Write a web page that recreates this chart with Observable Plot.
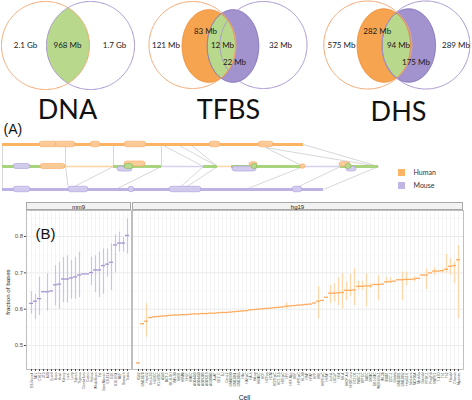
<!DOCTYPE html>
<html><head><meta charset="utf-8">
<script src="https://cdn.jsdelivr.net/npm/d3@7"></script>
<script src="https://cdn.jsdelivr.net/npm/@observablehq/plot@0.6"></script>
<style>
html,body{margin:0;padding:0;background:#fff;}
#fig{position:relative;width:472px;height:400px;overflow:hidden;font-family:"Liberation Sans",Arial,sans-serif;}
.strip{position:absolute;box-sizing:border-box;background:#f2f2f2;border:0.8px solid #a8a8a8;font-size:6px;color:#1a1a1a;text-align:center;line-height:8px;}
.lab{position:absolute;white-space:nowrap;color:#1a1a1a;}
</style>
</head><body>
<div id="fig"></div>
<script>
// ---------------- DATA ----------------
const vennSets = ["DNA", "TFBS", "DHS"];
const humanOnly = ["2.1 Gb", "121 Mb", "575 Mb"];
const bothShared = ["968 Mb", "12 Mb", "94 Mb"];
const mouseOnly = ["1.7 Gb", "32 Mb", "289 Mb"];
const humanFunctional = [null, "83 Mb", "282 Mb"];
const mouseFunctional = [null, "22 Mb", "175 Mb"];
const species = ["Human", "Mouse"];

const mm9Cells = ["ES-Bruce4","MEL","CH12","3T3","A20","B-cell","Brain","Heart","Kidney","Liver","Lung","Spleen","Thymus","Cerebellum","Cortex","Retina","WholeBrain","Fat","BoneMarrow","ES-E14","G1E","G1E-ER4","MEF","Stomach","Testis"];
const mm9Fraction = [0.616,0.622,0.629,0.648,0.648,0.650,0.667,0.669,0.683,0.683,0.686,0.689,0.694,0.697,0.697,0.701,0.708,0.708,0.720,0.724,0.729,0.777,0.782,0.782,0.803];
const mm9BarIdx = [0,1,2,4,6,7,8,9,10,11,12,15,16,17,18,19,20,21,22,23,24];
const mm9BarLo = [0.586,0.571,0.583,0.595,0.609,0.600,0.618,0.617,0.628,0.628,0.632,0.665,0.646,0.632,0.641,0.688,0.651,0.700,0.757,0.757,0.752];
const mm9BarHi = [0.648,0.641,0.688,0.697,0.720,0.729,0.743,0.747,0.734,0.743,0.757,0.743,0.747,0.757,0.766,0.766,0.780,0.805,0.812,0.798,0.849];

const hg19Cells = ["K562","GM12878","HepG2","HeLa-S3","HUVEC","H1-hESC","A549","MCF-7","SK-N-SH","IMR-90","NHEK","HSMM","NHLF","HMEC","AG04449","AG04450","AG09309","AG09319","AG10803","AoAF","BE2_C","BJ","Caco-2","GM06990","GM12864","GM12865","HAc","HAEpiC","HA-h","HA-sp","HBMEC","HCF","HCFaa","HCM","HCPEpiC","HCT-116","HEEpiC","HFF","HFF-Myc","HGF","HIPEpiC","HL-60","HMF","HPAF","HPF","HRE","HRPEpiC","HVMF","Jurkat","LNCaP","NB4","NH-A","NHDF-Ad","NHDF-neo","NT2-D1","PANC-1","RPTEC","SAEC","SKMC","SK-N-MC","WERI-Rb-1","WI-38","8988T","ECC-1","Gliobla","GM12891","GM12892","HepG2-E","Ishikawa","MCF10A","Medullo","Osteobl","PFSK-1","ProgFib","RWPE1","T-47D","Th1","Th2","Fibrobl","Chorion","Myometr"];
const hg19Fraction = [0.452,0.560,0.567,0.577,0.579,0.580,0.581,0.582,0.583,0.584,0.584,0.585,0.585,0.586,0.587,0.587,0.588,0.588,0.589,0.589,0.590,0.591,0.591,0.592,0.593,0.594,0.595,0.596,0.598,0.599,0.600,0.601,0.602,0.603,0.604,0.605,0.606,0.608,0.609,0.610,0.611,0.612,0.613,0.614,0.617,0.622,0.624,0.633,0.644,0.644,0.645,0.646,0.652,0.652,0.653,0.663,0.663,0.664,0.664,0.668,0.668,0.669,0.675,0.676,0.677,0.681,0.681,0.682,0.682,0.683,0.685,0.694,0.694,0.700,0.705,0.705,0.706,0.710,0.718,0.720,0.736];
const hg19BarIdx = [2,37,45,48,49,50,51,52,53,54,55,56,57,58,60,62,63,66,67,69,72,74,76,77,78,79,80];
const hg19BarLo = [0.523,0.600,0.574,0.615,0.620,0.610,0.601,0.624,0.635,0.610,0.652,0.652,0.606,0.657,0.624,0.670,0.670,0.624,0.665,0.675,0.654,0.693,0.700,0.699,0.693,0.670,0.574];
const hg19BarHi = [0.615,0.617,0.663,0.665,0.670,0.686,0.697,0.674,0.696,0.711,0.677,0.677,0.697,0.670,0.693,0.687,0.686,0.702,0.702,0.690,0.711,0.714,0.710,0.751,0.739,0.730,0.775];
const yTicks = [0.5, 0.6, 0.7, 0.8];
const yMinor = [0.45, 0.55, 0.65, 0.75, 0.85];

// ---------------- LAYOUT (drawing geometry, not data) ----------------
const C = {
  orangeLine:"#f5a873", purpleLine:"#a996cf",
  orangeFill:"#f7a450", purpleFill:"#a293cf", green:"#b8d98c",
  orangeEdge:"#ec8a33", purpleEdge:"#7e6cb5"
};
const vennLayout = [
  {o:[45,45,44,44], p:[90,45,44,44], oe:null, pe:null, title:[67,118],
   h:[25,45], s:[67,45], m:[114,45]},
  {o:[192,44.5,43.5,43.5], p:[263,44.5,43.5,43.5], oe:[208.3,45.5,26.7,36.3], pe:[232.5,45.5,25.8,36.3], title:[228,118],
   h:[165.5,45], s:[222,45], m:[280,45], hf:[205,31], mf:[234,62]},
  {o:[367.3,44.5,44,44], p:[425.3,44.5,44,44], oe:[383.3,45,26.7,36.7], pe:[408.3,45,26.7,36.7], title:[398,120],
   h:[341,45], s:[398,45], m:[455.5,45], hf:[376.7,31], mf:[415.5,62]}
];

function ellipsePts([cx,cy,rx,ry], n=240){
  return d3.range(n).map(k=>{const a=2*Math.PI*k/n; return {x:cx+rx*Math.cos(a), y:cy+ry*Math.sin(a)};});
}
function inside(p,[cx,cy,rx,ry]){ return ((p.x-cx)/rx)**2+((p.y-cy)/ry)**2 <= 1.0001; }
function intersect(e1,e2){
  const pts = ellipsePts(e1,720).filter(p=>inside(p,e2)).concat(ellipsePts(e2,720).filter(p=>inside(p,e1)));
  const mx=d3.mean(pts,p=>p.x), my=d3.mean(pts,p=>p.y);
  return pts.sort((a,b)=>Math.atan2(a.y-my,a.x-mx)-Math.atan2(b.y-my,b.x-mx));
}
function shape(pts, fill, stroke, sw){
  return Plot.line(pts,{x:"x",y:"y",fill:fill,stroke:stroke,strokeWidth:sw,curve:"linear-closed"});
}

const vennMarks = [];
const vennText = [];
vennLayout.forEach((L,i)=>{
  if (L.oe) {
    vennMarks.push(shape(ellipsePts(L.oe), C.orangeFill, "none", 0));
    vennMarks.push(shape(ellipsePts(L.pe), C.purpleFill, "none", 0));
    vennMarks.push(shape(intersect(L.oe,L.pe), C.green, "none", 0));
    vennMarks.push(shape(ellipsePts(L.oe), "none", C.orangeEdge, 0.9));
    vennMarks.push(shape(ellipsePts(L.pe), "none", C.purpleEdge, 0.9));
  } else {
    vennMarks.push(shape(intersect(L.o,L.p), C.green, "none", 0));
  }
  vennMarks.push(shape(ellipsePts(L.o), "none", C.orangeLine, 1));
  vennMarks.push(shape(ellipsePts(L.p), "none", C.purpleLine, 1));
  vennText.push({t:humanOnly[i], x:L.h[0], y:L.h[1]});
  vennText.push({t:bothShared[i], x:L.s[0], y:L.s[1]});
  vennText.push({t:mouseOnly[i], x:L.m[0], y:L.m[1]});
  if (humanFunctional[i]) vennText.push({t:humanFunctional[i], x:L.hf[0], y:L.hf[1]});
  if (mouseFunctional[i]) vennText.push({t:mouseFunctional[i], x:L.mf[0], y:L.mf[1]});
});
const vennTitles = vennSets.map((s,i)=>({t:s, x:vennLayout[i].title[0], y:vennLayout[i].title[1]}));

// Panel A schematic geometry
const G = {orange:"#fbb466", green:"#a9d47e", purple:"#bdb2e3", lo:"#fcd3a5", lp:"#d7d0f0",
           pillO:"#fcca98", pillOE:"#f5a65c", pillP:"#d2caee", pillPE:"#a99bd8", circG:"#b5db8a", circGE:"#7db552"};
const tracksThick = [
  {x1:2,x2:303,y:144,c:G.orange},{x1:2,x2:323,y:189,c:G.purple},
  {x1:2,x2:65,y:166,c:G.green},{x1:113,x2:161,y:166,c:G.green},{x1:203,x2:217,y:166,c:G.green},
  {x1:231,x2:303,y:166,c:G.green},{x1:340,x2:378,y:166,c:G.green}
];
const tracksThin = [
  {x1:65,x2:113,y:166,c:G.lo},{x1:161,x2:203,y:166,c:G.lp},{x1:217,x2:231,y:166,c:G.lo},{x1:303,x2:340,y:166,c:G.lp}
];
const links = [
  [2,144,2,189],[65,144,65,166],[65,166,68,189],[113,144,113,166],[113,166,68,189],
  [161,144,161,166],[161,166,115,189],[161,144,203,166],[177,144,217,166],[190,144,217,166],
  [203,166,177,189],[217,166,182,189],
  [265,147,303,166],[265,147,378,166],[303,144,378,166],
  [303,166,245,189],[340,166,292,189],[378,166,323,189]
].map(([x1,y1,x2,y2])=>({x1,y1,x2,y2}));
const pills = [
  // human track
  {x1:39,x2:57,y:144,h:5.5,f:G.pillO,s:G.pillOE},{x1:55,x2:75,y:144,h:5.5,f:G.pillO,s:G.pillOE},
  {x1:90,x2:100,y:144,h:5.5,f:G.pillO,s:G.pillOE},{x1:124,x2:146,y:144,h:5.5,f:G.pillO,s:G.pillOE},
  {x1:209,x2:220,y:144,h:5.5,f:G.pillO,s:G.pillOE},{x1:258,x2:273,y:144,h:5.5,f:G.pillO,s:G.pillOE},
  // mouse track
  {x1:13,x2:30,y:189,h:5.5,f:G.pillP,s:G.pillPE},{x1:68,x2:88,y:189,h:5.5,f:G.pillP,s:G.pillPE},
  {x1:128,x2:134,y:189,h:5.5,f:G.pillP,s:G.pillPE},{x1:169,x2:201,y:189,h:5.5,f:G.pillP,s:G.pillPE},
  {x1:292,x2:302,y:189,h:5.5,f:G.pillP,s:G.pillPE},
  // synteny track
  {x1:13,x2:30,y:166,h:5,f:G.pillP,s:G.pillPE},{x1:40,x2:65,y:166,h:5,f:G.pillO,s:G.pillOE},
  {x1:124,x2:145,y:163.5,h:5,f:G.pillO,s:G.pillOE},{x1:117,x2:132,y:168.5,h:5,f:G.pillP,s:G.pillPE},
  {x1:124,x2:133,y:166,h:5,f:G.circG,s:G.circGE},
  {x1:232,x2:256,y:168.5,h:5,f:G.pillP,s:G.pillPE},{x1:249,x2:257,y:164,h:4.5,f:G.pillO,s:G.pillOE},
  {x1:251,x2:257,y:166,h:5,f:G.circG,s:G.circGE},
  {x1:300,x2:305,y:166,h:4.5,f:G.pillO,s:G.pillOE},
  {x1:339,x2:350,y:164,h:4.5,f:G.pillO,s:G.pillOE},{x1:346,x2:356,y:168.5,h:5,f:G.pillP,s:G.pillPE},
  {x1:345,x2:351,y:166,h:5,f:G.circG,s:G.circGE}
];
const legendPos = [{x:398,y:169},{x:398,y:182}];
const legendColors = ["#fbb565","#c1b6e4"];
const legendRows = species.map((s,i)=>({t:s, x:legendPos[i].x, y:legendPos[i].y, c:legendColors[i]}));

const fig = document.getElementById("fig");
function place(el,left,top){el.style.position="absolute";el.style.left=left+"px";el.style.top=top+"px";fig.appendChild(el);return el;}

// ---------------- TOP: Venn diagrams + panel A ----------------
const topPlot = Plot.plot({
  width:472, height:200, margin:0,
  x:{domain:[0,472], range:[0,472], axis:null},
  y:{domain:[0,200], range:[0,200], axis:null},
  color:{type:"identity"},
  style:{background:"transparent", fontFamily:"Lato, 'Open Sans', sans-serif", overflow:"visible"},
  marks:[
    ...vennMarks,
    Plot.text(vennText,{x:"x",y:"y",text:"t",fontSize:8,fill:"#1a1a1a",lineAnchor:"middle"}),
    Plot.text(vennTitles,{x:"x",y:"y",text:"t",fontSize:27,fill:"#111",lineAnchor:"bottom"}),
    Plot.text(["(A)"],{x:3,y:124,text:d=>d,fontSize:14,textAnchor:"start",lineAnchor:"top",fill:"#111",fontFamily:"'Liberation Sans', Arial, sans-serif"}),
    Plot.link(links,{x1:"x1",y1:"y1",x2:"x2",y2:"y2",stroke:"#c6c6c6",strokeWidth:0.7}),
    Plot.ruleY(tracksThin,{y:"y",x1:"x1",x2:"x2",stroke:"c",strokeWidth:1.4}),
    Plot.ruleY(tracksThick,{y:"y",x1:"x1",x2:"x2",stroke:"c",strokeWidth:3}),
    Plot.rect(pills,{x1:"x1",x2:"x2",y1:d=>d.y-d.h/2,y2:d=>d.y+d.h/2,fill:"f",stroke:"s",strokeWidth:0.6,rx:2.8,fillOpacity:0.95}),
    Plot.rect(legendRows,{x1:"x",x2:d=>d.x+7,y1:"y",y2:d=>d.y+7,fill:"c"}),
    Plot.text(legendRows,{x:d=>d.x+15,y:d=>d.y+3.5,text:"t",fontSize:7,textAnchor:"start",fill:"#333"})
  ]
});
place(topPlot,0,0);

// ---------------- PANEL B ----------------
function panelPlot({cells, values, barIdx, lo, hi, dash, bar, width, ml, mr, yAxis, extra=[]}){
  const rows = cells.map((c,i)=>({cell:c, value:values[i]}));
  const bars = barIdx.map((k,j)=>({cell:cells[k], lo:lo[j], hi:hi[j]}));
  return Plot.plot({
    width, height:205, marginLeft:ml, marginRight:mr, marginTop:15, marginBottom:31,
    style:{background:"transparent", fontFamily:"'Liberation Sans', Arial, sans-serif", overflow:"visible"},
    x:{type:"band", domain:cells, paddingInner:0, paddingOuter:0.6, axis:null},
    y:{domain:[0.434,0.8716], axis:null},
    marks:[
      Plot.ruleY(yMinor,{stroke:"#f3f3f3",strokeWidth:0.5}),
      Plot.ruleY(yTicks,{stroke:"#e6e6e6",strokeWidth:0.8}),
      Plot.ruleX(cells,{x:d=>d,stroke:"#ececec",strokeWidth:0.6}),
      Plot.ruleX(bars,{x:"cell",y1:"lo",y2:"hi",stroke:bar,strokeWidth:1.2}),
      Plot.tickY(rows,{x:"cell",y:"value",stroke:dash,strokeWidth:1.3}),
      Plot.frame({stroke:"#b0b0b0",strokeWidth:0.8}),
      Plot.axisX({tickRotate:-90,fontSize:3.2,tickSize:2,tickPadding:1,label:null,color:"#444"}),
      ...(yAxis ? [Plot.axisY(yTicks,{tickFormat:".1f",fontSize:6,tickSize:2,tickPadding:1.5,label:null,color:"#4d4d4d"})] : []),
      ...extra
    ]
  });
}

const mmPlot = panelPlot({cells:mm9Cells, values:mm9Fraction, barIdx:mm9BarIdx, lo:mm9BarLo, hi:mm9BarHi,
  dash:"#a594d4", bar:"#cbc2e8", width:132, ml:26, mr:1, yAxis:true,
  extra:[Plot.text(["(B)"],{frameAnchor:"top-left",text:d=>d,dx:9,dy:18,fontSize:15,textAnchor:"start",lineAnchor:"top",fill:"#111"})]});
place(mmPlot,0,195);

const hgPlot = panelPlot({cells:hg19Cells, values:hg19Fraction, barIdx:hg19BarIdx, lo:hg19BarLo, hi:hg19BarHi,
  dash:"#ffac5e", bar:"#ffd4a8", width:341, ml:1, mr:9, yAxis:false});
place(hgPlot,131,195);

// strips and axis titles
const s1 = document.createElement("div"); s1.className="strip"; s1.textContent="mm9";
s1.style.width="105.5px"; s1.style.height="8.6px"; place(s1,25.8,201.6);
const s2 = document.createElement("div"); s2.className="strip"; s2.textContent="hg19";
s2.style.width="331.5px"; s2.style.height="8.6px"; place(s2,131.8,201.6);

const yl = document.createElement("div"); yl.className="lab"; yl.textContent="fraction of bases";
yl.style.fontSize="6.2px"; yl.style.transform="translate(-50%,-50%) rotate(-90deg)"; place(yl,7,292);
const xl = document.createElement("div"); xl.className="lab"; xl.textContent="Cell";
xl.style.fontSize="6.8px"; xl.style.transform="translate(-50%,-50%)"; place(xl,244.5,396.5);
</script>
</body></html>
